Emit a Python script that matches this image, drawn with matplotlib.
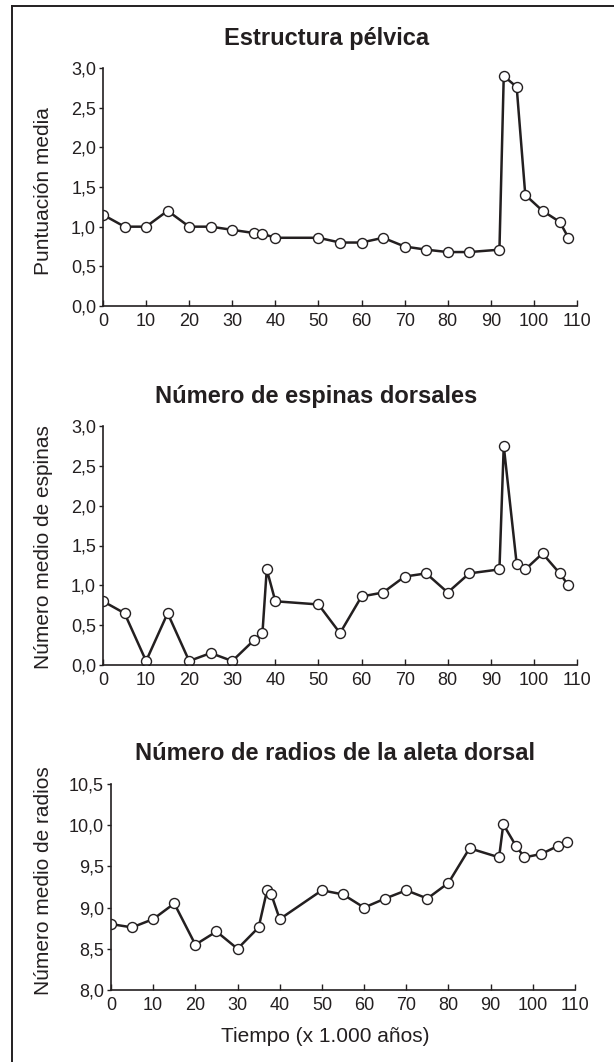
import matplotlib
matplotlib.use("Agg")
import matplotlib.pyplot as plt
from matplotlib.lines import Line2D

plt.rcParams["font.family"] = ["Liberation Sans", "DejaVu Sans"]

# --- data (time in x 1.000 years) ---
t_pelvis = [0, 5, 10, 15, 20, 25, 30, 35, 37, 40, 50, 55, 60, 65, 70, 75, 80, 85,
            92, 93, 96, 98, 102, 106, 108]
pelvis = [1.15, 1.0, 1.0, 1.2, 1.0, 1.0, 0.96, 0.92, 0.91, 0.86, 0.86, 0.80, 0.80,
          0.86, 0.75, 0.71, 0.68, 0.68, 0.71, 2.90, 2.76, 1.40, 1.20, 1.06, 0.86]

t_spines = [0, 5, 10, 15, 20, 25, 30, 35, 37, 38, 40, 50, 55, 60, 65, 70, 75, 80, 85,
            92, 93, 96, 98, 102, 106, 108]
spines = [0.80, 0.65, 0.05, 0.65, 0.05, 0.15, 0.05, 0.31, 0.40, 1.20, 0.80, 0.76,
          0.40, 0.86, 0.91, 1.11, 1.15, 0.91, 1.15, 1.20, 2.75, 1.27, 1.20, 1.40,
          1.15, 1.00]

t_rays = [0, 5, 10, 15, 20, 25, 30, 35, 37, 38, 40, 50, 55, 60, 65, 70, 75, 80, 85,
          92, 93, 96, 98, 102, 106, 108]
rays = [8.80, 8.76, 8.86, 9.05, 8.55, 8.71, 8.50, 8.76, 9.21, 9.16, 8.86, 9.21, 9.16,
        9.00, 9.11, 9.21, 9.11, 9.30, 9.72, 9.61, 10.01, 9.75, 9.61, 9.65, 9.75, 9.80]

titles = ["Estructura pélvica", "Número de espinas dorsales",
          "Número de radios de la aleta dorsal"]
ylabels = ["Puntuación media", "Número medio de espinas", "Número medio de radios"]
xticks = list(range(0, 111, 10))

W, H = 614, 1062
INK = "#231f20"
fig = plt.figure(figsize=(W / 100, H / 100), dpi=100)


def px(x0, y0, x1, y1):
    # axes rect from pixel box (left, top, right, bottom)
    return [x0 / W, 1 - y1 / H, (x1 - x0) / W, (y1 - y0) / H]


panels = [
    dict(rect=px(103, 68, 577, 306), t=t_pelvis, y=pelvis, ylim=(0, 3),
         yticks=[0, 0.5, 1, 1.5, 2, 2.5, 3], tc=(327, 38), yl=(44, 191)),
    dict(rect=px(103, 426, 577, 665), t=t_spines, y=spines, ylim=(0, 3),
         yticks=[0, 0.5, 1, 1.5, 2, 2.5, 3], tc=(316, 396), yl=(44, 547)),
    dict(rect=px(111, 784, 575, 990), t=t_rays, y=rays, ylim=(8, 10.5),
         yticks=[8, 8.5, 9, 9.5, 10, 10.5], tc=(335, 754), yl=(44, 881)),
]

for i, p in enumerate(panels):
    ax = fig.add_axes(p["rect"])
    ax.plot(p["t"], p["y"], color=INK, lw=1.8, marker="o", ms=7.2,
            mfc="white", mec=INK, mew=1.0)
    ax.set_xlim(0, 110)
    ax.set_ylim(*p["ylim"])
    ax.set_xticks(xticks)
    ax.set_yticks(p["yticks"])
    ax.set_yticklabels([f"{v:.1f}".replace(".", ",") for v in p["yticks"]])
    for s in ("top", "right"):
        ax.spines[s].set_visible(False)
    for s in ("left", "bottom"):
        ax.spines[s].set_linewidth(1.2)
        ax.spines[s].set_color(INK)
    ax.tick_params(axis="x", direction="in", length=4, width=1, pad=5,
                   labelsize=13, colors=INK)
    ax.tick_params(axis="y", direction="out", length=3, width=1, pad=2,
                   labelsize=13, colors=INK)
    fig.text(p["yl"][0] / W, 1 - p["yl"][1] / H, ylabels[i], rotation=90,
             ha="center", va="center", fontsize=15, color=INK)
    fig.text(p["tc"][0] / W, 1 - p["tc"][1] / H, titles[i], ha="center",
             va="center", fontsize=17, fontweight="bold", color=INK)

fig.text(325 / W, 1 - 1037 / H, "Tiempo (x 1.000 años)", ha="center",
         va="center", fontsize=15, color=INK)

# frame lines of the original (top and left only)
fig.add_artist(Line2D([12 / W, 12 / W], [0, 1 - 6 / H], transform=fig.transFigure,
                      color=INK, lw=1.4))
fig.add_artist(Line2D([12 / W, 1], [1 - 6 / H, 1 - 6 / H], transform=fig.transFigure,
                      color=INK, lw=1.4))

fig.savefig("out.png", dpi=100)
